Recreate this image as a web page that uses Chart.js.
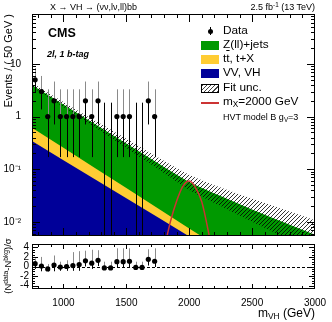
<!DOCTYPE html>
<html><head><meta charset="utf-8">
<script src="https://cdn.jsdelivr.net/npm/chart.js@4.4.0/dist/chart.umd.min.js"></script>
<style>
body{margin:0;width:332px;height:322px;position:relative;background:#fff;font-family:"Liberation Sans",Arial,sans-serif;overflow:hidden}
.t{position:absolute;white-space:nowrap;color:#000;line-height:1}
sup,sub{font-size:70%;line-height:0}
sup{vertical-align:0.45em}
sub{vertical-align:-0.25em}
canvas{position:absolute;left:0}
.sw{position:absolute;width:18px;height:9px}
</style></head><body>
<canvas id="main" width="332" height="240" style="top:0"></canvas>
<canvas id="ratio" width="332" height="82" style="top:240px"></canvas>

<div class="t" style="left:50px;top:3px;font-size:9px">X → VH → (νν,lν,ll)bb</div>
<div class="t" style="right:17px;top:3px;font-size:9px">2.5 fb<sup>-1</sup> (13 TeV)</div>
<div class="t" style="left:48px;top:27px;font-size:12.5px;font-weight:bold">CMS</div>
<div class="t" style="left:47px;top:50px;font-size:9px;font-weight:bold;font-style:italic">2l, 1 b-tag</div>

<div class="t" style="left:2.5px;top:14px;font-size:11px;transform-origin:0 0;transform:rotate(-90deg) translateX(-100%)">Events / ( 50 GeV )</div>
<div class="t" style="left:8px;top:266px;font-size:9.5px;transform:translate(-50%,-50%) rotate(-90deg)">(N<sup>data</sup>-N<sup>bkg</sup>)/σ</div>
<div class="t" style="right:17px;top:307px;font-size:12px">m<sub>VH</sub> (GeV)</div>

<!-- legend -->
<div style="position:absolute;left:209.5px;top:27px;width:1px;height:8px;background:#000"></div>
<div style="position:absolute;left:207.5px;top:28.5px;width:5px;height:5px;border-radius:50%;background:#000"></div>
<div class="t" style="left:223px;top:25px;font-size:11.8px">Data</div>
<div class="sw" style="left:201px;top:40.5px;background:#009900"></div>
<div class="t" style="left:223px;top:39px;font-size:11.8px">Z(ll)+jets</div>
<div class="sw" style="left:201px;top:54.5px;background:#ffcc33"></div>
<div class="t" style="left:223px;top:53px;font-size:11.8px">t<span style="text-decoration:overline">t</span>, t+X</div>
<div class="sw" style="left:201px;top:68.5px;background:#000099"></div>
<div class="t" style="left:223px;top:67px;font-size:11.8px">VV, VH</div>
<div class="sw" style="left:201px;top:83.5px;box-sizing:border-box;border:1px solid #000;background:repeating-linear-gradient(135deg,#444 0 0.8px,#fff 0.8px 3px)"></div>
<div class="t" style="left:223px;top:82px;font-size:11.8px">Fit unc.</div>
<div style="position:absolute;left:201px;top:102px;width:18px;height:1.5px;background:#cc3333"></div>
<div class="t" style="left:223px;top:96px;font-size:11.8px">m<sub>X</sub>=2000 GeV</div>
<div class="t" style="left:223px;top:113px;font-size:9px">HVT model B g<sub>V</sub>=3</div>

<script>
// ---- data ----
const binCenters = [775,825,875,925,975,1025,1075,1125,1175,1225,1275,1325,1375,1425,1475,1525,1575,1625,1675,1725];
const dataCounts = [5,3,1,2,1,1,1,1,2,1,2,0,0,1,1,1,0,0,2,1];
const dataLow    = [2.84,1.37,0.17,0.71,0.17,0.17,0.17,0.17,0.71,0.17,0.71,0,0,0.17,0.17,0.17,0,0,0.71,0.17];
const dataHigh   = [8.38,5.92,3.30,4.64,3.30,3.30,3.30,3.30,4.64,3.30,4.64,1.84,1.84,3.30,3.30,3.30,1.84,1.84,4.64,3.30];

const bkgMass   = [750,1000,1250,1500,1750,2000,2250,2500,2750,3000];
const zjetsTop  = [4.0,1.70,0.727,0.31,0.132,0.0575,0.0312,0.0173,0.0098,0.00568];
const ttbarTop  = [0.618,0.256,0.106,0.044,0.0182,0.00753,0.00313,0.0013,0.00054,0.00022];
const vvTop     = [0.344,0.149,0.0647,0.0281,0.0122,0.0053,0.0023,0.001,0.00044,0.00019];
const uncUp     = [4.4,1.9,0.84,0.38,0.17,0.079,0.045,0.0277,0.0172,0.0108];
const uncDown   = [3.64,1.52,0.627,0.254,0.102,0.0405,0.0201,0.0101,0.0052,0.0027];

const sigMass   = [1800,1850,1900,1950,2000,2050,2100,2150,2200];
const sigValues = [0.003,0.01,0.025,0.048,0.06,0.045,0.024,0.007,0.0015];

const ratioValues = [0.6,0.1,-0.5,0.3,-0.1,0.0,0.2,0.4,1.2,0.7,1.3,-0.3,-0.3,1.0,1.0,1.1,-0.2,-0.2,1.5,1.1];
const ratioLow    = [-0.5,-1.0,-1.0,-1.0,-0.9,-0.9,-0.9,-0.9,0.0,-0.5,0.1,-0.3,-0.3,-0.3,-0.3,-0.2,-0.2,-0.2,0.2,-0.1];
const ratioHigh   = [1.7,2.0,0.5,2.3,1.0,1.3,3.0,3.2,3.3,3.5,3.4,1.0,1.0,3.8,3.8,3.8,1.0,1.0,3.6,3.8];

const xTicks = [1000,1500,2000,2500,3000];
const yTicks = [0.01,0.1,1,10];
const ratioTicks = [-4,-2,0,2,4];

const FONT = 'Liberation Sans';
const pts = (xs, ys) => xs.map((x,i)=>({x, y: ys[i]}));
const noPad = (s) => { s.paddingTop=0; s.paddingBottom=0; s.paddingLeft=0; s.paddingRight=0; };

function hatchPattern(){
  const c=document.createElement('canvas'); c.width=4; c.height=4;
  const g=c.getContext('2d'); g.strokeStyle='#000'; g.lineWidth=0.8;
  g.beginPath(); g.moveTo(0,4); g.lineTo(4,0); g.moveTo(-1,1); g.lineTo(1,-1); g.moveTo(3,5); g.lineTo(5,3); g.stroke();
  return g.createPattern(c,'repeat');
}
const supMap = {'-':'⁻','1':'¹','2':'²','3':'³'};
function logLabel(v){
  if (v>=1) return String(Math.round(v));
  const e = Math.round(Math.log10(v));
  return '10' + String(e).split('').map(ch=>supMap[ch]).join('');
}

function drawFrameTicks(ctx, a, xs, ys, yTickList, xMajLen, xMinLen, yMajLen, yMinLen){
  ctx.save();
  ctx.strokeStyle='#000'; ctx.lineWidth=1;
  ctx.strokeRect(Math.round(a.left)+0.5, Math.round(a.top)+0.5, Math.round(a.right-a.left)-1, Math.round(a.bottom-a.top)-1);
  ctx.beginPath();
  for (let m=800; m<3000; m+=100){
    const px = Math.round(xs.getPixelForValue(m))+0.5;
    const len = (m%500===0)? xMajLen : xMinLen;
    ctx.moveTo(px, a.bottom); ctx.lineTo(px, a.bottom-len);
    ctx.moveTo(px, a.top); ctx.lineTo(px, a.top+len);
  }
  for (const t of yTickList){
    const py = Math.round(ys.getPixelForValue(t.v))+0.5;
    if (py < a.top || py > a.bottom) continue;
    const len = t.major ? yMajLen : yMinLen;
    ctx.moveTo(a.left, py); ctx.lineTo(a.left+len, py);
    ctx.moveTo(a.right, py); ctx.lineTo(a.right-len, py);
  }
  ctx.stroke();
  ctx.restore();
}

const mainDecor = {
  id:'mainDecor',
  beforeDatasetDraw(chart, args){
    if (args.index!==0) return;
    const {ctx, chartArea:a, scales:{x,y}} = chart;
    ctx.save(); ctx.lineWidth=1;
    binCenters.forEach((m,i)=>{
      const px = Math.round(x.getPixelForValue(m))+0.5;
      const yTop = y.getPixelForValue(dataHigh[i]);
      const yBot = dataLow[i]>0 ? y.getPixelForValue(dataLow[i]) : a.bottom;
      if (dataCounts[i]>0){
        const yc = y.getPixelForValue(dataCounts[i]);
        ctx.strokeStyle='#8a8a8a'; ctx.beginPath(); ctx.moveTo(px,yTop); ctx.lineTo(px,yc); ctx.stroke();
        ctx.strokeStyle='#000'; ctx.beginPath(); ctx.moveTo(px,yc); ctx.lineTo(px,Math.min(yBot,a.bottom)); ctx.stroke();
      } else {
        ctx.strokeStyle='#000'; ctx.beginPath(); ctx.moveTo(px,yTop); ctx.lineTo(px,a.bottom); ctx.stroke();
      }
    });
    ctx.restore();
  },
  afterDraw(chart){
    const {ctx, chartArea:a, scales:{x,y}} = chart;
    const list=[];
    for (let d=-3; d<=2; d++) for (let k=1;k<=9;k++) list.push({v:k*Math.pow(10,d), major:k===1});
    drawFrameTicks(ctx,a,x,y,list,8,4,8,4);
  }
};

const ratioDecor = {
  id:'ratioDecor',
  beforeDatasetDraw(chart, args){
    const {ctx, chartArea:a, scales:{x,y}} = chart;
    ctx.save(); ctx.lineWidth=1;
    ctx.setLineDash([3,2]); ctx.strokeStyle='#000';
    const y0 = Math.round(y.getPixelForValue(0))+0.5;
    ctx.beginPath(); ctx.moveTo(a.left,y0); ctx.lineTo(a.right,y0); ctx.stroke();
    ctx.setLineDash([]);
    binCenters.forEach((m,i)=>{
      const px = Math.round(x.getPixelForValue(m))+0.5;
      const yc = y.getPixelForValue(ratioValues[i]);
      ctx.strokeStyle='#8a8a8a'; ctx.beginPath(); ctx.moveTo(px,y.getPixelForValue(ratioHigh[i])); ctx.lineTo(px,yc); ctx.stroke();
      ctx.strokeStyle='#000'; ctx.beginPath(); ctx.moveTo(px,yc); ctx.lineTo(px,y.getPixelForValue(ratioLow[i])); ctx.stroke();
    });
    ctx.restore();
  },
  afterDraw(chart){
    const {ctx, chartArea:a, scales:{x,y}} = chart;
    const list=[];
    for (let v=-4; v<=4; v+=0.5) list.push({v, major: v%2===0});
    drawFrameTicks(ctx,a,x,y,list,5,3,6,3);
  }
};

const hatch = hatchPattern();
const lineDs = (label, xs, ys, extra) => Object.assign({label, data: pts(xs, ys), pointRadius:0, borderWidth:0, tension:0}, extra);

new Chart(document.getElementById('main'), {
  type:'line',
  data:{datasets:[
    {label:'Data', data: binCenters.map((m,i)=>({x:m, y: dataCounts[i]>0 ? dataCounts[i] : null})), showLine:false,
     pointRadius:2.6, pointBackgroundColor:'#000', pointBorderWidth:0, order:0},
    lineDs('mX=2000 GeV', sigMass, sigValues, {borderColor:'#cc3333', borderWidth:1.5, fill:false, cubicInterpolationMode:'monotone', order:1}),
    lineDs('Fit unc.', bkgMass, uncUp, {fill:{target:3}, backgroundColor:hatch, order:2, cubicInterpolationMode:'monotone'}),
    lineDs('unc low', bkgMass, uncDown, {fill:false, order:2, cubicInterpolationMode:'monotone'}),
    lineDs('VV, VH', bkgMass, vvTop, {fill:'start', backgroundColor:'#000099', order:3}),
    lineDs('tt, t+X', bkgMass, ttbarTop, {fill:'start', backgroundColor:'#ffcc33', order:4}),
    lineDs('Z(ll)+jets', bkgMass, zjetsTop, {fill:'start', backgroundColor:'#009900', order:5, cubicInterpolationMode:'monotone'})
  ]},
  options:{
    responsive:false, animation:false, events:[],
    layout:{padding:{top:14,right:17,left:0,bottom:4}},
    plugins:{legend:{display:false}, tooltip:{enabled:false}},
    scales:{
      x:{type:'linear', min:750, max:3000, display:false},
      y:{type:'logarithmic', min:0.0054, max:89,
         afterFit(s){s.width=32; noPad(s);},
         afterBuildTicks(s){s.ticks=yTicks.map(v=>({value:v}));},
         ticks:{callback:(v)=>logLabel(v), font:{family:FONT,size:10}, color:'#000', padding:11, autoSkip:false},
         grid:{display:false, drawTicks:false}, border:{display:false}}
    }
  },
  plugins:[mainDecor]
});

new Chart(document.getElementById('ratio'), {
  type:'line',
  data:{datasets:[
    {label:'ratio', data: pts(binCenters, ratioValues), showLine:false, pointRadius:2.6, pointBackgroundColor:'#000', pointBorderWidth:0}
  ]},
  options:{
    responsive:false, animation:false, events:[],
    layout:{padding:{top:3,right:17,left:0,bottom:0}},
    plugins:{legend:{display:false}, tooltip:{enabled:false}},
    scales:{
      x:{type:'linear', min:750, max:3000,
         afterFit(s){s.height=33; noPad(s);},
         afterBuildTicks(s){s.ticks=xTicks.map(v=>({value:v}));},
         ticks:{font:{family:FONT,size:10}, color:'#000', padding:8, maxRotation:0, autoSkip:false, callback:(v)=>String(v)},
         grid:{display:false, drawTicks:false}, border:{display:false}},
      y:{min:-4.7, max:4.7,
         afterFit(s){s.width=32; noPad(s);},
         afterBuildTicks(s){s.ticks=ratioTicks.map(v=>({value:v}));},
         ticks:{font:{family:FONT,size:10}, color:'#000', padding:3, autoSkip:false, callback:(v)=>String(v)},
         grid:{display:false, drawTicks:false}, border:{display:false}}
    }
  },
  plugins:[ratioDecor]
});
</script>
</body></html>
